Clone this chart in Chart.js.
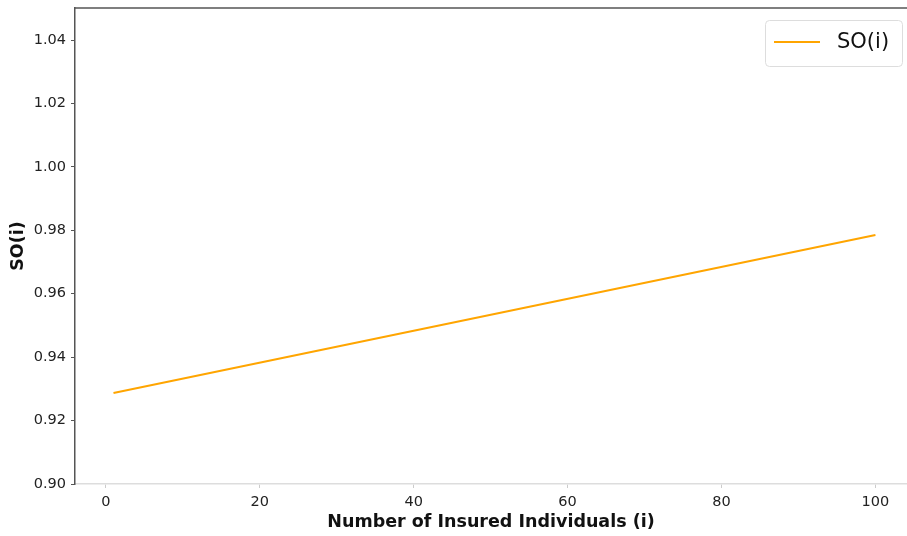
<!DOCTYPE html>
<html>
<head>
<meta charset="utf-8">
<script src="https://cdn.jsdelivr.net/npm/chart.js@4/dist/chart.umd.min.js"></script>
<style>
html,body{margin:0;padding:0;background:#fff;}
#wrap{position:relative;width:907px;height:536px;}
</style>
</head>
<body>
<div id="wrap"><canvas id="c" width="907" height="536"></canvas></div>
<script>
// Data
const insuredIndividuals = [1, 100];
const soValues = [0.9287, 0.9785];
const xTickValues = [0, 20, 40, 60, 80, 100];
const yTickValues = [0.90, 0.92, 0.94, 0.96, 0.98, 1.00, 1.02, 1.04];
const seriesLabel = 'SO(i)';
const xTitle = 'Number of Insured Individuals (i)';
const yTitle = 'SO(i)';

const FONT = "'DejaVu Sans', sans-serif";

const framePlugin = {
  id: 'frame',
  afterDraw(chart) {
    const {ctx, chartArea: a} = chart;
    ctx.save();
    ctx.strokeStyle = '#555555';
    ctx.lineWidth = 1.5;
    ctx.beginPath();
    ctx.moveTo(a.left, a.top);
    ctx.lineTo(a.right, a.top);
    ctx.stroke();
    // legend
    const bx = 765.5, by = 20.5, bw = 137, bh = 46;
    ctx.fillStyle = 'rgba(255,255,255,0.85)';
    ctx.strokeStyle = '#dddddd';
    ctx.lineWidth = 1;
    ctx.beginPath();
    if (ctx.roundRect) ctx.roundRect(bx, by, bw, bh, 4); else ctx.rect(bx, by, bw, bh);
    ctx.fill();
    ctx.stroke();
    ctx.strokeStyle = '#FFA500';
    ctx.lineWidth = 2;
    ctx.beginPath();
    ctx.moveTo(774, 42);
    ctx.lineTo(820, 42);
    ctx.stroke();
    ctx.fillStyle = '#111111';
    ctx.font = "21px " + FONT;
    ctx.textBaseline = 'middle';
    ctx.textAlign = 'left';
    ctx.fillText(seriesLabel, 837, 43);
    ctx.restore();
  }
};

new Chart(document.getElementById('c'), {
  type: 'line',
  data: {
    datasets: [{
      label: seriesLabel,
      data: insuredIndividuals.map((x, i) => ({x: x, y: soValues[i]})),
      borderColor: '#FFA500',
      borderWidth: 2,
      pointRadius: 0,
      fill: false,
      tension: 0
    }]
  },
  options: {
    responsive: false,
    animation: false,
    devicePixelRatio: 1,
    layout: {padding: {top: 8, right: 0, left: 0, bottom: 0}},
    plugins: {legend: {display: false}, tooltip: {enabled: false}},
    scales: {
      x: {
        type: 'linear',
        min: -4,
        max: 104.1,
        afterBuildTicks(s) { s.ticks = xTickValues.map(v => ({value: v})); },
        afterFit(s) { s.height = 52; s.paddingLeft = 0; s.paddingRight = 0; },
        ticks: {
          font: {family: FONT, size: 14.5},
          color: '#222222',
          padding: 6,
          maxRotation: 0,
          callback: v => String(v)
        },
        grid: {drawOnChartArea: false, drawTicks: true, tickLength: 4, color: '#cccccc'},
        border: {color: '#dddddd', width: 1.5},
        title: {
          display: true,
          text: xTitle,
          font: {family: FONT, size: 17.5, weight: 'bold'},
          color: '#111111',
          padding: {top: 2, bottom: 3}
        }
      },
      y: {
        type: 'linear',
        min: 0.90,
        max: 1.0501,
        afterBuildTicks(s) { s.ticks = yTickValues.map(v => ({value: v})); },
        afterFit(s) { s.width = 75; s.paddingTop = 0; s.paddingBottom = 0; },
        ticks: {
          font: {family: FONT, size: 14.5},
          color: '#222222',
          padding: 5,
          callback: v => Number(v).toFixed(2)
        },
        grid: {drawOnChartArea: false, drawTicks: true, tickLength: 4, color: '#555555'},
        border: {color: '#555555', width: 1.5},
        title: {
          display: true,
          text: yTitle,
          font: {family: FONT, size: 17.5, weight: 'bold'},
          color: '#111111',
          padding: {top: 8, bottom: 4}
        }
      }
    }
  },
  plugins: [framePlugin]
});
</script>
</body>
</html>
